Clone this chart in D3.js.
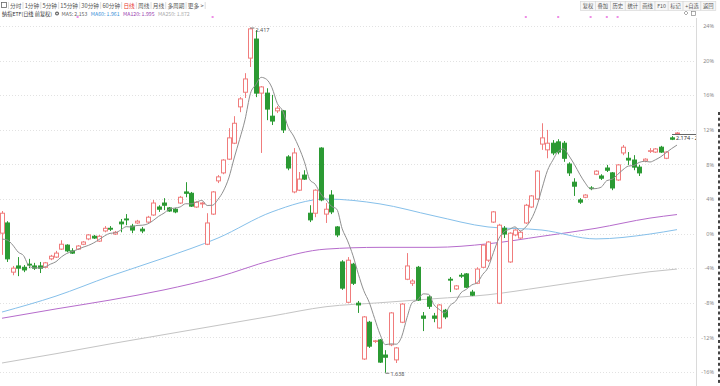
<!DOCTYPE html>
<html><head><meta charset="utf-8">
<script src="https://cdn.jsdelivr.net/npm/d3@7"></script>
<style>body{margin:0;background:#fff;}svg{display:block;font-family:"Noto Sans CJK SC","Noto Sans",sans-serif;}</style>
</head><body><svg id="c" width="720" height="386"></svg>
<script>
// ---------- data ----------
const title = "纳指ETF(日线 前复权)";
const periods = ["分时","1分钟","5分钟","15分钟","30分钟","60分钟","日线","周线","月线","多周期","更多 >"];
const activePeriod = "日线";
const tools = ["复权","叠加","历史","统计","画线","F10","标记","+自选","返回"];
const legendItems = [["MA5: 2.153","#666"],["MA60: 1.961","#3a8fd8"],["MA120: 1.995","#9b3fb0"],["MA250: 1.872","#aaa"]];
const basePrice = 1.952;
const pctTicks = [24,20,16,12,8,4,0,-4,-8,-12,-16];
const prevCloses = [1.906,1.931,1.953,1.910];
// [open, high, low, close]
const ohlc = [
[1.953,2.003,1.904,1.998],[1.976,1.980,1.888,1.895],[1.865,1.879,1.858,1.874],[1.879,1.899,1.856,1.874],
[1.876,1.881,1.865,1.870],[1.883,1.895,1.874,1.881],[1.879,1.886,1.870,1.874],[1.879,1.888,1.863,1.874],
[1.876,1.888,1.874,1.886],[1.895,1.904,1.892,1.901],[1.899,1.913,1.897,1.908],[1.917,1.937,1.915,1.928],
[1.926,1.928,1.910,1.913],[1.913,1.919,1.906,1.908],[1.917,1.926,1.915,1.924],[1.928,1.935,1.926,1.933],
[1.940,1.951,1.937,1.949],[1.946,1.949,1.940,1.942],[1.935,1.949,1.933,1.946],[1.958,1.969,1.955,1.964],
[1.964,1.969,1.958,1.962],[1.951,1.958,1.949,1.955],[1.978,1.985,1.955,1.974],[1.985,1.996,1.971,1.983],
[1.969,1.974,1.953,1.960],[1.976,1.983,1.974,1.980],[1.962,1.967,1.953,1.958],[1.978,1.992,1.976,1.989],
[1.994,2.028,1.992,2.021],[2.012,2.016,2.001,2.007],[2.021,2.032,2.005,2.016],[2.010,2.012,2.001,2.003],
[2.007,2.010,1.998,2.001],[2.021,2.037,2.019,2.034],[2.046,2.068,2.034,2.043],[2.043,2.046,2.012,2.014],
[2.012,2.025,2.010,2.023],[2.019,2.023,2.010,2.021],[1.928,1.998,1.926,1.976],[1.996,2.048,1.994,2.046],
[2.071,2.084,2.066,2.080],[2.089,2.120,2.086,2.118],[2.120,2.190,2.118,2.168],[2.156,2.217,2.154,2.201],
[2.238,2.260,2.226,2.256],[2.271,2.314,2.258,2.301],[2.348,2.417,2.328,2.414],[2.391,2.411,2.260,2.269],
[2.269,2.285,2.134,2.283],[2.269,2.280,2.208,2.233],[2.217,2.265,2.197,2.206],[2.229,2.240,2.224,2.235],
[2.229,2.231,2.179,2.186],[2.125,2.129,2.095,2.100],[2.046,2.145,2.043,2.134],[2.050,2.091,2.048,2.075],
[2.084,2.095,2.073,2.075],[1.998,2.016,1.978,1.983],[1.998,2.052,1.989,2.050],[2.145,2.147,2.025,2.028],
[1.996,2.021,1.976,2.007],[2.039,2.050,1.996,2.001],[1.967,1.969,1.944,1.949],[1.888,1.892,1.825,1.829],
[1.797,1.899,1.795,1.892],[1.883,1.886,1.836,1.840],[1.795,1.800,1.773,1.791],[1.669,1.766,1.667,1.764],
[1.752,1.755,1.694,1.698],[1.710,1.712,1.705,1.710],[1.712,1.714,1.660,1.662],[1.678,1.689,1.638,1.673],
[1.701,1.775,1.698,1.773],[1.667,1.696,1.660,1.694],[1.752,1.795,1.750,1.793],[1.849,1.908,1.847,1.879],
[1.840,1.849,1.834,1.845],
[1.876,1.879,1.800,1.802],[1.766,1.775,1.732,1.761],[1.809,1.813,1.782,1.788],[1.766,1.773,1.752,1.761],
[1.739,1.793,1.737,1.791],[1.779,1.782,1.759,1.764],[1.849,1.854,1.820,1.847],[1.827,1.836,1.825,1.834],
[1.858,1.863,1.852,1.856],[1.861,1.863,1.829,1.831],[1.820,1.825,1.811,1.813],[1.840,1.876,1.838,1.872],
[1.876,1.928,1.874,1.926],[1.892,1.935,1.888,1.933],[1.978,2.003,1.976,2.001],[1.795,1.974,1.793,1.971],
[1.964,1.969,1.942,1.951],[1.888,1.955,1.886,1.953],[1.949,1.962,1.946,1.960],[1.942,1.958,1.940,1.955],
[1.976,2.019,1.974,2.016],
[2.012,2.039,2.010,2.037],[2.030,2.095,2.028,2.093],[2.154,2.201,2.141,2.168],[2.141,2.186,2.122,2.156],
[2.156,2.163,2.129,2.134],[2.159,2.165,2.131,2.136],[2.156,2.161,2.114,2.122],[2.109,2.113,2.082,2.089],
[2.068,2.077,2.037,2.059],[2.028,2.032,2.019,2.023],[2.034,2.041,2.032,2.039],[2.055,2.059,2.050,2.054],
[2.086,2.095,2.084,2.093],[2.082,2.086,2.073,2.077],[2.100,2.107,2.091,2.095],[2.089,2.091,2.050,2.055],
[2.073,2.109,2.071,2.107],[2.134,2.152,2.129,2.147],[2.122,2.136,2.107,2.118],[2.118,2.129,2.095,2.102],
[2.102,2.107,2.082,2.089],[2.116,2.122,2.113,2.120],[2.138,2.145,2.134,2.139],[2.136,2.145,2.134,2.143],
[2.147,2.150,2.134,2.136],[2.122,2.138,2.120,2.136],[2.168,2.172,2.163,2.165],[2.177,2.181,2.175,2.179]
];
// long moving averages read at sampled candle indices
const maIdx  = [0,10,20,30,40,50,60,70,80,90,100,110,120,125];
const ma60   = [1.775,1.811,1.856,1.897,1.942,2.001,2.030,2.019,1.992,1.967,1.960,1.940,1.951,1.961];
const ma120  = [1.761,1.782,1.802,1.825,1.854,1.892,1.917,1.921,1.921,1.929,1.946,1.964,1.987,1.995];
const ma250  = [1.660,1.681,1.703,1.724,1.745,1.766,1.787,1.796,1.805,1.814,1.831,1.849,1.866,1.872];
const eventIdx = [14,39,97,103,109,112,114];
const lastLabel = "2.174 - 2.1";

// ---------- drawing ----------
const svg = d3.select("#c");
const UP = "#f07c7c", DOWN = "#2b9a33";
const plotR = 696, plotT = 20, plotB = 386;
const x = d3.scalePoint().domain(d3.range(ohlc.length)).range([2, 677]);
const y = d3.scaleLinear().domain([basePrice*(1-0.16), basePrice*(1+0.24)]).range([372, 26]);
const px = i => Math.round(x(i)) + 0.5;

svg.append("defs").append("clipPath").attr("id","clip")
  .append("rect").attr("x",0).attr("y",plotT).attr("width",plotR).attr("height",plotB-plotT);

// toolbar row 1
const g1 = svg.append("g").attr("font-size",5.7);
g1.append("rect").attr("x",1.5).attr("y",2.5).attr("width",5).attr("height",5).attr("fill","none").attr("stroke","#666").attr("stroke-width",0.8);
let cx = 10;
g1.append("line").attr("x1",8.5).attr("x2",8.5).attr("y1",2).attr("y2",9).attr("stroke","#ddd");
periods.forEach(p => {
  const t = g1.append("text").attr("x",cx).attr("y",8).text(p).attr("fill", p===activePeriod ? "#e8382f" : "#555");
  const w = t.node().getComputedTextLength();
  g1.append("line").attr("x1",cx+w+1.6).attr("x2",cx+w+1.6).attr("y1",2).attr("y2",9).attr("stroke","#ddd");
  cx += w + 3.3;
});
// toolbar right
const g2 = svg.append("g").attr("font-size",5.3);
let rx = 580.5;
tools.forEach(tl => {
  const t = g2.append("text").attr("y",8).text(tl).attr("fill","#555");
  const w = t.node().getComputedTextLength();
  g2.insert("rect","text").attr("x",rx).attr("y",1.5).attr("width",w+4.3).attr("height",9).attr("fill","#f7f7f7").attr("stroke","#d4d4d4").attr("stroke-width",0.6);
  t.attr("x", rx+2.15);
  rx += w + 4.3;
});
// legend row
const g3 = svg.append("g").attr("font-size",5.2);
const tt = g3.append("text").attr("x",2).attr("y",15.5).attr("fill","#333").text(title);
let lx = 2 + tt.node().getComputedTextLength() + 3;
g3.append("circle").attr("cx",lx+2).attr("cy",13.6).attr("r",2).attr("fill","#666");
g3.append("circle").attr("cx",lx+2).attr("cy",13.6).attr("r",0.8).attr("fill","#fff");
lx += 6.5;
legendItems.forEach(([s,c]) => {
  const t = g3.append("text").attr("x",lx).attr("y",15.5).attr("fill",c).text(s);
  lx += t.node().getComputedTextLength() + 3.5;
});
// top-right icons
svg.append("path").attr("d","M686,11 l2,2 l-2,2 l-2,-2z").attr("fill","none").attr("stroke","#888").attr("stroke-width",0.7);
svg.append("rect").attr("x",691.5).attr("y",11.5).attr("width",4).attr("height",4).attr("fill","none").attr("stroke","#888").attr("stroke-width",0.7);
// event markers
svg.append("g").selectAll("rect").data(eventIdx).join("rect")
  .attr("x", i => x(i)-1).attr("y",16).attr("width",2).attr("height",2).attr("fill","#ee8ee6");

// grid
const tickPrices = pctTicks.map(p => basePrice*(1+p/100));
svg.append("g").selectAll("line").data(tickPrices).join("line")
  .attr("x1",0).attr("x2",plotR).attr("y1",d=>Math.round(y(d))+0.5).attr("y2",d=>Math.round(y(d))+0.5)
  .attr("stroke","#e2e2e2").attr("stroke-dasharray","1,2");
svg.append("line").attr("x1",plotR+0.5).attr("x2",plotR+0.5).attr("y1",18).attr("y2",plotB).attr("stroke","#dadada");
// right-edge cut-off panel
svg.append("g").selectAll("rect").data(d3.range(112, 384, 5.7)).join("rect")
  .attr("x",718).attr("y",d=>d).attr("width",2).attr("height",3).attr("fill","#444");
// axis
const axis = d3.axisRight(y).tickValues(tickPrices).tickSize(0).tickPadding(0).tickFormat((d,i)=>pctTicks[i]+"%");
const ga = svg.append("g").attr("transform","translate(714,0)").call(axis);
ga.select(".domain").remove();
ga.selectAll("text").attr("text-anchor","end").attr("fill","#8a8a8a").attr("font-size",5.5)
  .attr("font-family",'"Noto Sans","DejaVu Sans",sans-serif');

const plot = svg.append("g").attr("clip-path","url(#clip)");

// moving averages
const line = d3.line().x(d=>x(d[0])).y(d=>y(d[1])).curve(d3.curveMonotoneX);
[[ma250,"#c4c4c4"],[ma120,"#b66ccc"],[ma60,"#86c0ea"]].forEach(([arr,c]) => {
  plot.append("path").attr("d", line(maIdx.map((k,j)=>[k,arr[j]]))).attr("fill","none").attr("stroke",c).attr("stroke-width",1);
});

// candles
const up = d => d[3] >= d[0];
const cg = plot.append("g");
cg.selectAll("line").data(ohlc).join("line")
  .attr("x1",(d,i)=>px(i)).attr("x2",(d,i)=>px(i))
  .attr("y1",d=>y(d[1])).attr("y2",d=>y(d[2]))
  .attr("stroke",d=>up(d)?UP:DOWN).attr("stroke-width",1);
cg.selectAll("rect").data(ohlc).join("rect")
  .attr("x",(d,i)=>px(i)-2).attr("width",4)
  .attr("y",d=>Math.min(y(d[0]),y(d[3])))
  .attr("height",d=>Math.max(0.6,Math.abs(y(d[0])-y(d[3]))))
  .attr("fill",d=>up(d)?"#fff":DOWN)
  .attr("stroke",d=>up(d)?UP:DOWN).attr("stroke-width",1);

// MA5 from closes
const closes = prevCloses.concat(ohlc.map(d=>d[3]));
const ma5 = ohlc.map((d,i)=>[i, d3.mean(closes.slice(i, i+5))]);
plot.append("path").attr("d", d3.line().x(d=>x(d[0])).y(d=>y(d[1])).curve(d3.curveMonotoneX)(ma5))
  .attr("fill","none").attr("stroke","#8f8f8f").attr("stroke-width",1);

// extremes
const iMax = d3.maxIndex(ohlc, d=>d[1]), iMin = d3.minIndex(ohlc, d=>d[2]);
const lab = plot.append("g").attr("font-size",5.5).attr("fill","#555").attr("font-family",'"Noto Sans","DejaVu Sans",sans-serif');
lab.append("line").attr("x1",x(iMax)).attr("x2",x(iMax)+4).attr("y1",y(ohlc[iMax][1])+0.5).attr("y2",y(ohlc[iMax][1])+0.5).attr("stroke","#777");
lab.append("text").attr("x",x(iMax)+5).attr("y",y(ohlc[iMax][1])+4).text(ohlc[iMax][1].toFixed(3));
lab.append("line").attr("x1",x(iMin)).attr("x2",x(iMin)+4).attr("y1",y(ohlc[iMin][2])+0.5).attr("y2",y(ohlc[iMin][2])+0.5).attr("stroke","#777");
lab.append("text").attr("x",x(iMin)+5).attr("y",y(ohlc[iMin][2])+3).text(ohlc[iMin][2].toFixed(3));
// last price line + label
const li = ohlc.length-1;
lab.append("line").attr("x1",x(li)-5).attr("x2",plotR).attr("y1",Math.round(y(ohlc[li][3]))+1.5).attr("y2",Math.round(y(ohlc[li][3]))+1.5).attr("stroke","#666");
lab.append("text").attr("x",x(li)-1).attr("y",y(ohlc[li][3])+7).attr("fill","#333").text(lastLabel);
</script></body></html>
